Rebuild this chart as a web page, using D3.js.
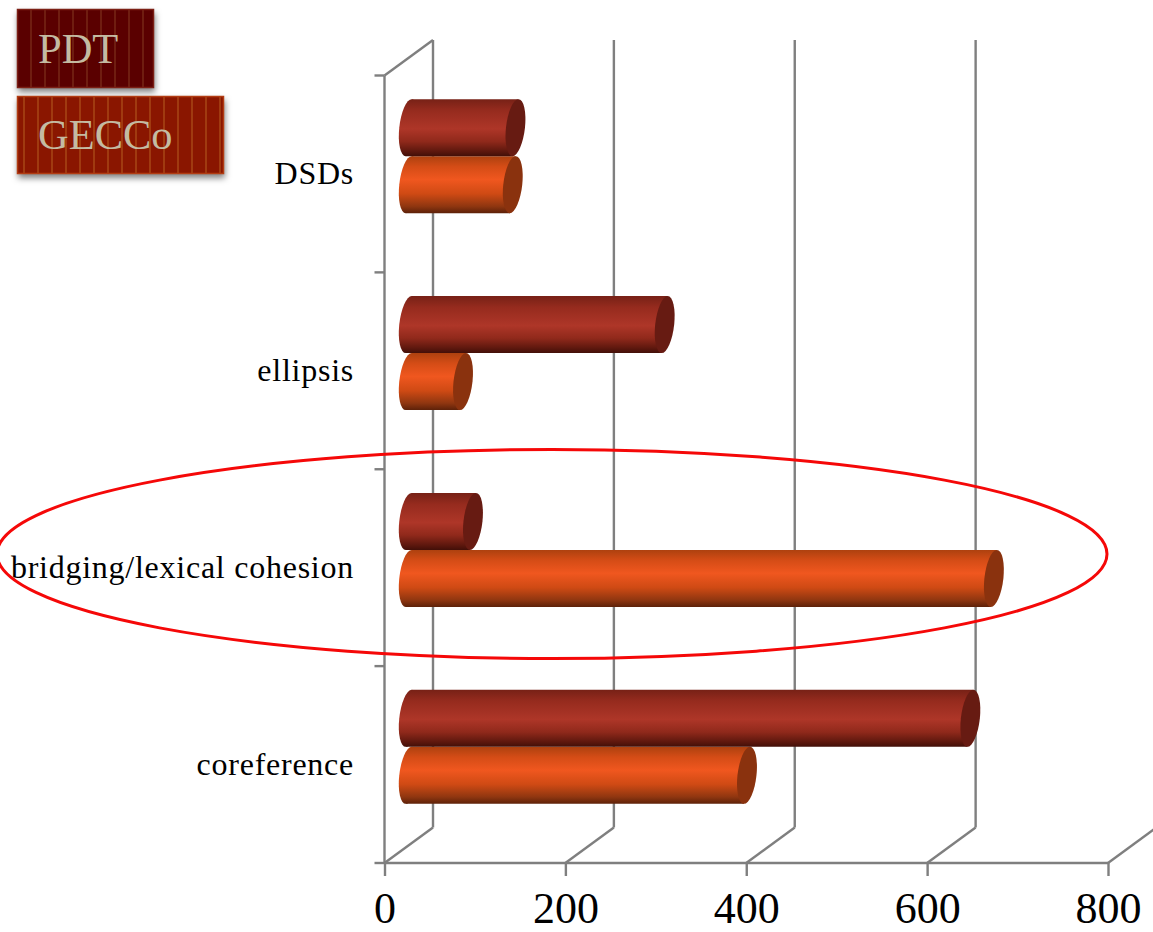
<!DOCTYPE html>
<html>
<head>
<meta charset="utf-8">
<script src="https://cdn.jsdelivr.net/npm/d3@7"></script>
<style>
html, body { margin: 0; padding: 0; background: #fff; overflow: hidden; }
svg { display: block; }
text { font-family: "Liberation Serif", serif; }
</style>
</head>
<body>
<svg id="chart" width="1153" height="932"></svg>
<script>
// Chart data, listed top to bottom
const categories = ["DSDs", "ellipsis", "bridging/lexical cohesion", "coreference"];
const seriesNames = ["PDT", "GECCo"];
const pdtValues = [118, 283, 71, 621];
const gecoValues = [115, 60, 647, 374];
const valueTicks = [0, 200, 400, 600, 800];

// Plot frame and the oblique offset of the back wall
const frame = { left: 384.5, right: 1108, top: 75.5, bottom: 863 };
const depth = { dx: 48.5, dy: -35.5 };
const capRx = 9.5;
const capSkewDeg = -6;
const gridColor = "#7f7f7f";

const svg = d3.select("#chart");
const defs = svg.append("defs");

const x = d3.scaleLinear().domain([0, 800]).range([frame.left, frame.right]);
const band = d3.scaleBand().domain(categories).range([frame.top, frame.bottom]);
const sub = d3.scaleBand().domain(seriesNames).range([0, 114]);

const palette = {
  PDT: {
    offsets: [0, 0.2, 0.52, 0.74, 0.91, 1],
    stops: ["#772116", "#962b1e", "#ae3628", "#90291b", "#5f180e", "#420f08"],
    cap: "#671b12"
  },
  GECCo: {
    offsets: [0, 0.18, 0.41, 0.66, 0.88, 1],
    stops: ["#ad410f", "#d44c16", "#f0571f", "#cf4a14", "#8f3610", "#5d2109"],
    cap: "#8a320e"
  }
};

seriesNames.forEach(name => {
  const g = defs.append("linearGradient")
    .attr("id", "body-" + name)
    .attr("x1", 0).attr("y1", 0).attr("x2", 0).attr("y2", 1);
  palette[name].stops.forEach((c, i) => {
    g.append("stop").attr("offset", palette[name].offsets[i]).attr("stop-color", c);
  });
});

const shadow = defs.append("filter").attr("id", "box-shadow")
  .attr("x", "-10%").attr("y", "-15%").attr("width", "125%").attr("height", "135%");
shadow.append("feDropShadow")
  .attr("dx", 1).attr("dy", 4).attr("stdDeviation", 3)
  .attr("flood-color", "#000").attr("flood-opacity", 0.5);

// Back wall gridlines and floor diagonals
const wall = svg.append("g").attr("stroke", gridColor).attr("stroke-width", 2.4).attr("fill", "none");
valueTicks.forEach(v => {
  wall.append("line")
    .attr("x1", x(v)).attr("y1", frame.bottom)
    .attr("x2", x(v) + depth.dx).attr("y2", frame.bottom + depth.dy);
  if (v < 800) {
    wall.append("line")
      .attr("x1", x(v) + depth.dx).attr("y1", frame.bottom + depth.dy)
      .attr("x2", x(v) + depth.dx).attr("y2", frame.top + depth.dy);
  }
});
wall.append("line")
  .attr("x1", frame.left).attr("y1", frame.top)
  .attr("x2", frame.left + depth.dx).attr("y2", frame.top + depth.dy);

// Category axis: line with ticks on the band edges
const edges = categories.map(c => band(c)).concat(frame.bottom);
const catAxis = svg.append("g").attr("stroke", gridColor).attr("stroke-width", 2.4);
catAxis.append("line")
  .attr("x1", frame.left).attr("x2", frame.left)
  .attr("y1", frame.top).attr("y2", frame.bottom);
catAxis.selectAll("line.tick").data(edges).join("line").attr("class", "tick")
  .attr("x1", frame.left - 10).attr("x2", frame.left)
  .attr("y1", d => d).attr("y2", d => d);

// Value axis
const valueAxis = svg.append("g")
  .attr("transform", `translate(0,${frame.bottom})`)
  .call(d3.axisBottom(x).tickValues(valueTicks).tickSize(13).tickPadding(16).tickFormat(d3.format("d")));
valueAxis.selectAll("path, line").attr("stroke", gridColor).attr("stroke-width", 2.4);
valueAxis.select("path").attr("d", `M${frame.left},0H${frame.right}`);
valueAxis.selectAll("text")
  .attr("fill", "#000").attr("font-size", 44)
  .style("font-family", '"Liberation Serif", serif');

// Category labels
svg.append("g").selectAll("text").data(categories).join("text")
  .attr("x", 354)
  .attr("y", c => band(c) + band.bandwidth() / 2)
  .attr("dy", "0.32em")
  .attr("text-anchor", "end")
  .attr("font-size", 32)
  .attr("letter-spacing", 0.75)
  .attr("fill", "#000")
  .text(c => c);

// Cylinders: lower series first so the upper one's shading sits on top
function drawCylinder(parent, name, value, category) {
  const yTop = band(category) + band.bandwidth() / 2 + depth.dy / 2 - 57 + sub(name);
  const h = sub.bandwidth();
  const yMid = yTop + h / 2;
  const x0 = x(0) + depth.dx / 2;
  const x1 = x(value) + depth.dx / 2;
  const lean = Math.tan(-capSkewDeg * Math.PI / 180) * h / 2;
  const g = parent.append("g");
  const fill = `url(#body-${name})`;
  g.append("ellipse")
    .attr("transform", `translate(${x0},${yMid}) skewX(${capSkewDeg})`)
    .attr("rx", capRx).attr("ry", h / 2).attr("fill", fill);
  g.append("path")
    .attr("d", `M${x0 + lean},${yTop}L${x1 + lean},${yTop}L${x1 - lean},${yTop + h}L${x0 - lean},${yTop + h}Z`)
    .attr("fill", fill);
  g.append("ellipse")
    .attr("transform", `translate(${x1},${yMid}) skewX(${capSkewDeg})`)
    .attr("rx", capRx).attr("ry", h / 2).attr("fill", palette[name].cap);
}

const bars = svg.append("g");
categories.forEach((c, i) => {
  drawCylinder(bars, "GECCo", gecoValues[i], c);
  drawCylinder(bars, "PDT", pdtValues[i], c);
});

// Highlight ring around the bridging row
svg.append("ellipse")
  .attr("cx", 552).attr("cy", 554).attr("rx", 555).attr("ry", 104.5)
  .attr("fill", "none").attr("stroke", "#f50808").attr("stroke-width", 3);

// Legend boxes
const legendBoxes = [
  { name: "PDT", w: 137, y: 9, h: 79, fill: "#5a0000", stripe: "#6f1d10", border: "#7c1f14", first: 30 },
  { name: "GECCo", w: 207, y: 96, h: 78, fill: "#8a1500", stripe: "#a03a10", border: "#b23c12", first: 23 }
];
legendBoxes.forEach(b => {
  const g = svg.append("g");
  g.append("rect")
    .attr("x", 17).attr("y", b.y).attr("width", b.w).attr("height", b.h)
    .attr("fill", b.fill).attr("filter", "url(#box-shadow)");
  d3.range(b.first, 17 + b.w - 3, 14).forEach(sx => {
    g.append("rect").attr("x", sx).attr("y", b.y).attr("width", 2).attr("height", b.h)
      .attr("fill", b.stripe);
  });
  g.append("rect")
    .attr("x", 17.5).attr("y", b.y + 0.5).attr("width", b.w - 1).attr("height", b.h - 1)
    .attr("fill", "none").attr("stroke", b.border).attr("stroke-width", 1.5);
  g.append("text")
    .attr("x", 38).attr("y", b.y + b.h / 2).attr("dy", "0.33em")
    .attr("font-size", 42.5).attr("fill", "#c4bba2")
    .text(b.name);
});
</script>
</body>
</html>
